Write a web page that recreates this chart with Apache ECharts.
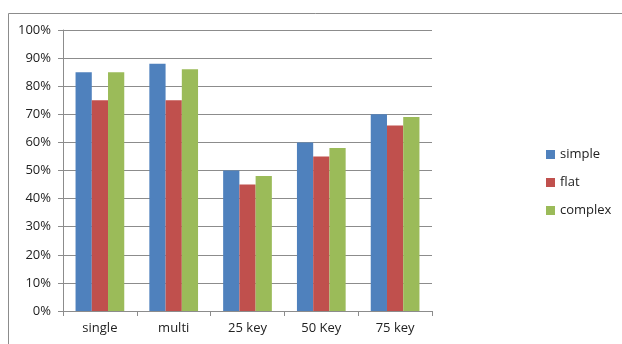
<!DOCTYPE html>
<html>
<head>
<meta charset="utf-8">
<script src="https://cdn.jsdelivr.net/npm/echarts@6/dist/echarts.min.js"></script>
<style>
  html, body { margin: 0; padding: 0; background: #fff; }
  #chart { width: 622px; height: 344px; }
</style>
</head>
<body>
<div id="chart"></div>
<script>
// Categories and series values (fractions of 1)
const categories = ['single', 'multi', '25 key', '50 Key', '75 key'];
const simpleVals = [0.85, 0.88, 0.50, 0.60, 0.70];
const flatVals = [0.75, 0.75, 0.45, 0.55, 0.66];
const complexVals = [0.85, 0.86, 0.48, 0.58, 0.69];
const seriesNames = ['simple', 'flat', 'complex'];
const seriesColors = ['#4F81BD', '#C0504D', '#9BBB59'];

const font = 'Open Sans';
const chart = echarts.init(document.getElementById('chart'), null, { renderer: 'canvas' });

const barSeries = [simpleVals, flatVals, complexVals].map((vals, i) => ({
  name: seriesNames[i],
  type: 'bar',
  data: vals,
  barGap: '0%',
  barCategoryGap: '34%',
  itemStyle: { color: seriesColors[i] },
  emphasis: { disabled: true }
}));

chart.setOption({
  animation: false,
  backgroundColor: '#ffffff',
  graphic: [{
    type: 'rect',
    shape: { x: 8.5, y: 13.5, width: 700, height: 400 },
    style: { fill: 'none', stroke: '#8c8c8c', lineWidth: 1 },
    silent: true
  }],
  grid: { left: 63, top: 30, right: 190, bottom: 33 },
  legend: {
    orient: 'vertical',
    left: 541,
    top: 143,
    itemWidth: 9,
    itemHeight: 9,
    itemGap: 15,
    icon: 'rect',
    textStyle: { fontFamily: font, fontSize: 13, color: '#222' },
    data: seriesNames
  },
  xAxis: {
    type: 'category',
    data: categories,
    axisLine: { lineStyle: { color: '#8c8c8c' } },
    axisTick: { show: true, length: 5, lineStyle: { color: '#8c8c8c' } },
    axisLabel: { fontFamily: font, fontSize: 13, color: '#222', margin: 11 }
  },
  yAxis: {
    type: 'value',
    min: 0,
    max: 1,
    interval: 0.1,
    axisLine: { show: true, lineStyle: { color: '#8c8c8c' } },
    axisTick: { show: true, length: 5, lineStyle: { color: '#8c8c8c' } },
    splitLine: { lineStyle: { color: '#8c8c8c' } },
    axisLabel: {
      fontFamily: font, fontSize: 13, color: '#222', margin: 12,
      formatter: v => Math.round(v * 100) + '%'
    }
  },
  series: barSeries
});
</script>
</body>
</html>
